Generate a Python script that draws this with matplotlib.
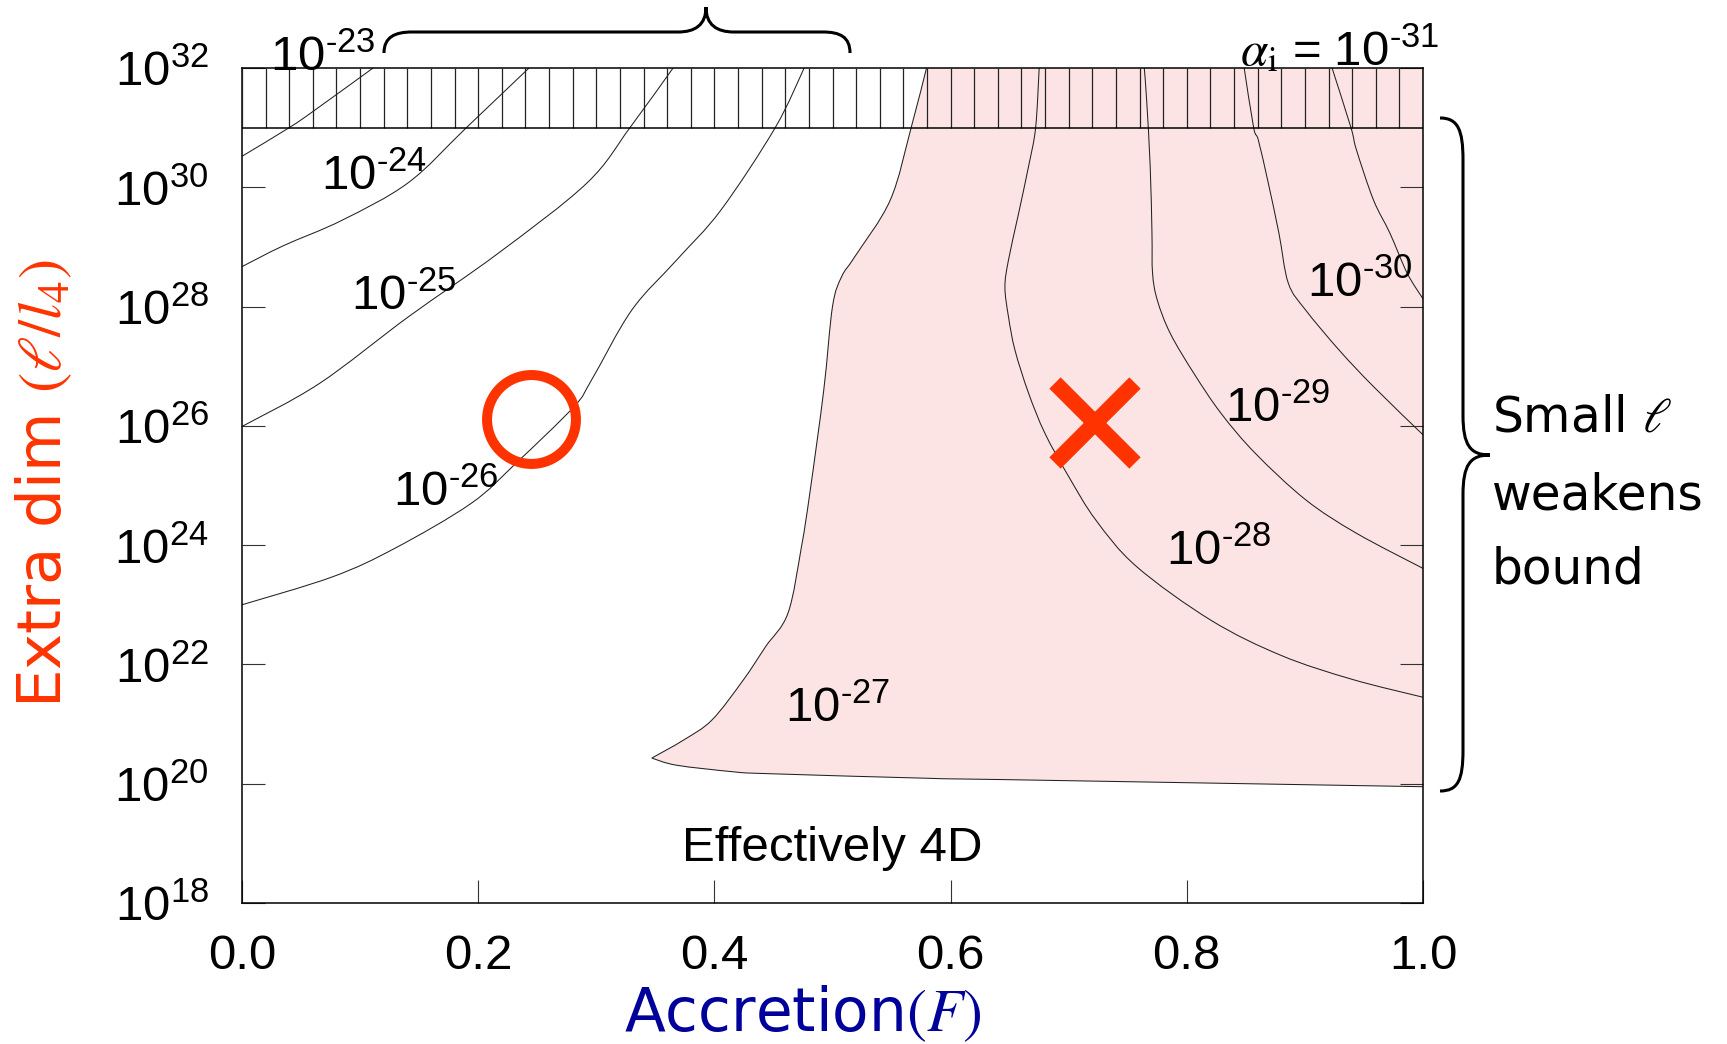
import numpy as np
import matplotlib
matplotlib.use("Agg")
import matplotlib.pyplot as plt
from matplotlib.path import Path
from matplotlib.patches import PathPatch

plt.rcParams['font.family'] = ['Liberation Sans', 'DejaVu Sans']
plt.rcParams['mathtext.fontset'] = 'stix'

# ---------------- data (F, log10 of ell/l4) ----------------
F_23 = [0.0, 0.040, 0.060, 0.111]
L_23 = [30.52, 31.0, 31.27, 32.0]

F_24 = [0.0, 0.035, 0.085, 0.141, 0.190, 0.243]
L_24 = [28.67, 29.02, 29.45, 30.08, 31.0, 32.0]

F_25 = [0.0, 0.0655, 0.141, 0.2167, 0.292, 0.3285, 0.365]
L_25 = [25.99, 26.71, 27.83, 28.89, 30.07, 31.0, 32.0]

F_26 = [0.0, 0.0768, 0.1297, 0.194, 0.2318, 0.281, 0.296, 0.330, 0.368, 0.4056, 0.4515, 0.476]
L_26 = [23.0, 23.47, 23.95, 24.70, 25.37, 26.32, 26.77, 27.94, 28.78, 29.62, 31.0, 32.0]

# 10^-27 : boundary of the shaded (excluded) region: left edge from the top down to the tip,
# then the lower edge from the tip to F = 1
F_27_UP = [0.5796, 0.5666, 0.549, 0.519, 0.5077, 0.500, 0.4926, 0.481, 0.4737, 0.4623, 0.4434,
           0.4245, 0.398, 0.3737, 0.347]
L_27_UP = [32.0, 31.0, 29.79, 28.84, 28.5, 28.0, 26.6, 24.9, 23.97, 22.86, 22.3,
           21.74, 21.07, 20.73, 20.43]
F_27_LOW = [0.347, 0.368, 0.416, 0.443, 0.5826, 0.642, 1.0]
L_27_LOW = [20.43, 20.31, 20.2, 20.17, 20.09, 20.07, 19.95]

F_28 = [0.675, 0.672, 0.666, 0.657, 0.649, 0.646, 0.649, 0.6545, 0.666, 0.680, 0.700, 0.723,
        0.7575, 0.8205, 0.88, 0.94, 1.0]
L_28 = [32.0, 31.0, 30.35, 29.51, 28.78, 28.33, 27.83, 27.27, 26.55, 25.87, 25.15, 24.42,
        23.64, 22.74, 22.15, 21.75, 21.45]

F_29 = [0.764, 0.766, 0.769, 0.7705, 0.771, 0.775, 0.786, 0.806, 0.829, 0.858, 0.9007, 0.9436, 1.0]
L_29 = [32.0, 31.46, 30.35, 29.23, 28.56, 28.11, 27.55, 26.88, 26.21, 25.54, 24.76, 24.2, 23.61]

F_30 = [0.8486, 0.8566, 0.8606, 0.869, 0.878, 0.886, 0.9007, 0.929, 0.958, 1.0]
L_30 = [32.0, 31.0, 30.79, 30.07, 29.23, 28.39, 27.94, 27.27, 26.66, 25.85]

F_31 = [0.923, 0.939, 0.9436, 0.958, 0.972, 0.9866, 1.0]
L_31 = [32.0, 31.0, 30.63, 29.79, 29.23, 28.56, 28.13]

# contour labels: exponent, F of label, log10(ell) of label baseline
LABEL_EXP = [-23, -24, -25, -26, -27, -28, -29, -30]
LABEL_F = [0.0237, 0.0673, 0.0926, 0.128, 0.460, 0.782, 0.832, 0.902]
LABEL_L = [31.96, 29.95, 27.95, 24.66, 21.04, 23.67, 26.07, 28.17]

# markers
CIRCLE_F, CIRCLE_L = 0.245, 26.12
CROSS_F, CROSS_L = 0.722, 26.05

# axes ticks
X_TICKS = [0.0, 0.2, 0.4, 0.6, 0.8, 1.0]
Y_TICK_EXP = [18, 20, 22, 24, 26, 28, 30, 32]
BAND_LOW, BAND_HIGH = 31, 32
HATCH_STEP = 0.02

PINK = '#fde4e4'
RED = '#ff3300'
LINE = '#222222'
FS = 35.5

W, H = 1727, 1044
fig = plt.figure(figsize=(W / 100, H / 100), dpi=100)
ax = fig.add_axes([242 / W, 1 - 903 / H, 1181 / W, 835 / H])
ax.set_yscale('log')
ax.set_xlim(0, 1)
ax.set_ylim(10.0 ** Y_TICK_EXP[0], 10.0 ** Y_TICK_EXP[-1])


def smooth_segments(F, L):
    """Cubic Bezier pieces passing through every read point (Catmull-Rom tangents),
    computed in (F, log10) space; y is returned in data units for the log axis."""
    P = np.column_stack([F, L]).astype(float)
    n = len(P)
    verts = []
    for i in range(n - 1):
        p0 = P[i - 1] if i > 0 else P[i]
        p1, p2 = P[i], P[i + 1]
        p3 = P[i + 2] if i + 2 < n else P[i + 1]
        c1 = p1 + (p2 - p0) / 6.0
        c2 = p2 - (p3 - p1) / 6.0
        verts += [c1, c2, p2]
    verts = np.array(verts)
    verts[:, 1] = 10.0 ** verts[:, 1]
    start = np.array([P[0, 0], 10.0 ** P[0, 1]])
    return start, verts


def smooth_path(*pieces, close_pts=None):
    allv, codes = [], []
    for k, (F, L) in enumerate(pieces):
        start, verts = smooth_segments(F, L)
        if k == 0:
            allv.append(start); codes.append(Path.MOVETO)
        allv.extend(verts); codes.extend([Path.CURVE4] * len(verts))
    if close_pts is not None:
        for cp in close_pts:
            allv.append(cp); codes.append(Path.LINETO)
        allv.append(allv[0]); codes.append(Path.CLOSEPOLY)
    return Path(np.array(allv), codes)


# shaded region bounded by the 10^-27 contour and the right/top edges
fill_path = smooth_path((F_27_UP, L_27_UP), (F_27_LOW, L_27_LOW),
                        close_pts=[(1.0, 10.0 ** BAND_HIGH)])
ax.add_patch(PathPatch(fill_path, facecolor=PINK, edgecolor='none', zorder=0))

curves = [[(F_23, L_23)], [(F_24, L_24)], [(F_25, L_25)], [(F_26, L_26)],
          [(F_27_UP, L_27_UP), (F_27_LOW, L_27_LOW)],
          [(F_28, L_28)], [(F_29, L_29)], [(F_30, L_30)], [(F_31, L_31)]]
for pieces in curves:
    ax.add_patch(PathPatch(smooth_path(*pieces), facecolor='none', edgecolor=LINE,
                           lw=0.75, zorder=2))

# hatched band at the top
hx = np.arange(0, 1 + 1e-9, HATCH_STEP)
ax.vlines(hx, 10.0 ** BAND_LOW, 10.0 ** BAND_HIGH, color=LINE, lw=0.9, zorder=3)
ax.axhline(10.0 ** BAND_LOW, color='k', lw=1.1, zorder=3)

# markers
ax.plot([CIRCLE_F], [10.0 ** CIRCLE_L], marker='o', ms=64, mfc='none', mec=RED, mew=7.2,
        ls='none', zorder=5, clip_on=False)
ax.plot([CROSS_F], [10.0 ** CROSS_L], marker='x', ms=58, mec=RED, mew=11.5,
        ls='none', zorder=5, clip_on=False)

# contour labels
for e, fx, ly in zip(LABEL_EXP, LABEL_F, LABEL_L):
    ax.text(fx, 10.0 ** ly, r'$\mathregular{10^{\text{-}%d}}$' % abs(e), fontsize=FS,
            ha='left', va='baseline', color='k', zorder=6, clip_on=False)
ax.text(0.845, 10.0 ** 32.05, r'$\alpha_{\mathrm{i}}\mathregular{\,=\,10^{\text{-}31}}$',
        fontsize=FS, ha='left', va='baseline', zorder=6, clip_on=False)
ax.text(0.5, 10.0 ** 18.70, 'Effectively 4D', fontsize=FS, ha='center', va='baseline')

# ticks
ax.set_xticks(X_TICKS)
ax.set_xticklabels(['%.1f' % v for v in X_TICKS])
ax.set_yticks([10.0 ** e for e in Y_TICK_EXP])
ax.set_yticklabels([r'$\mathregular{10^{%d}}$' % e for e in Y_TICK_EXP])
ax.yaxis.set_minor_locator(matplotlib.ticker.NullLocator())
ax.tick_params(axis='both', which='major', direction='in', length=16.5, width=0.8,
               color='#333333', labelsize=FS)
ax.tick_params(axis='y', left=True, right=True, pad=24)
ax.tick_params(axis='x', top=False, bottom=True, pad=22)
for s in ax.spines.values():
    s.set_linewidth(1.1)
    s.set_color('k')

# axis labels
fig.text(44 / W, 1 - 484 / H, r'Extra dim $(\ell/l_4)$', rotation=90, ha='center', va='center',
         fontsize=44, color=RED, family='DejaVu Sans')
fig.text(803 / W, 1 - 1031 / H, r'Accretion$(F)$', ha='center', va='baseline',
         fontsize=43, color='#00009a', family='DejaVu Sans',
         bbox=dict(facecolor='white', edgecolor='none', pad=0))

# right-hand note
for txt, yb in zip([r'Small $\ell$', 'weakens', 'bound'], [432, 509, 584]):
    fig.text(1492 / W, 1 - yb / H, txt, ha='left', va='baseline', fontsize=35,
             family='DejaVu Sans', color='k')


# braces (figure pixel coords, y from top)
def brace_path(segs):
    verts, codes = [], []
    first = True
    for seg in segs:
        pts = [(x / W, 1 - y / H) for x, y in seg]
        if first:
            verts.append(pts[0]); codes.append(Path.MOVETO); first = False
        if len(seg) == 2:
            verts.append(pts[1]); codes.append(Path.LINETO)
        else:
            verts.extend(pts[1:]); codes.extend([Path.CURVE4] * 3)
    return Path(verts, codes)


top_brace = brace_path([
    [(384, 53), (384, 37), (395, 32), (412, 32)],
    [(412, 32), (678, 32)],
    [(678, 32), (695, 32), (706, 25), (706, 7)],
    [(706, 7), (706, 25), (717, 32), (734, 32)],
    [(734, 32), (823, 32)],
    [(823, 32), (840, 32), (850, 37), (850, 53)],
])
right_brace = brace_path([
    [(1440, 118), (1458, 118), (1463, 130), (1463, 160)],
    [(1463, 160), (1463, 415)],
    [(1463, 415), (1463, 445), (1470, 455), (1490, 455)],
    [(1490, 455), (1470, 455), (1463, 465), (1463, 495)],
    [(1463, 495), (1463, 750)],
    [(1463, 750), (1463, 780), (1458, 791), (1440, 791)],
])
for p in (top_brace, right_brace):
    fig.patches.append(PathPatch(p, transform=fig.transFigure, fill=False, lw=2.2, color='k'))

fig.savefig('out.png', dpi=100)
